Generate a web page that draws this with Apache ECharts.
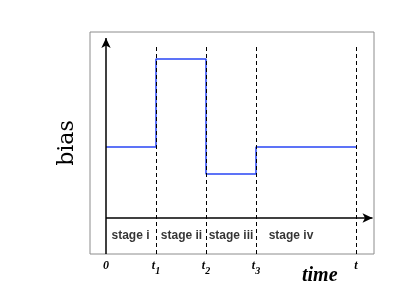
<!DOCTYPE html>
<html>
<head>
<meta charset="utf-8">
<script src="https://cdn.jsdelivr.net/npm/echarts@6/dist/echarts.min.js"></script>
<style>html,body{margin:0;padding:0;background:#fff}#c{width:415px;height:286px}</style>
</head>
<body>
<div id="c"></div>
<script>
// ---- data ----
var stepX = [0, 1, 2, 3, 5];
var biasLevels = [71, 159, 44, 71, 71];
var tickValues = [0, 1, 2, 3, 5];
var tickLabels = ['0', 't1', 't2', 't3', 't'];
var dashedMarks = [1, 2, 3, 5];
var stageNames = ['stage i', 'stage ii', 'stage iii', 'stage iv'];
var stageCenters = [0.49, 1.51, 2.5, 3.7];
var stageLevel = -18;
var axisEndX = 5.33;
var axisTopY = 180;
var dashTopY = 173;
var xMin = -0.32, xMax = 5.36, yMin = -36, yMax = 186;

var chart = echarts.init(document.getElementById('c'));

var stepData = stepX.map(function (x, i) { return [x, biasLevels[i]]; });
var stageData = stageNames.map(function (n, i) { return { name: n, value: [stageCenters[i], stageLevel] }; });
var dashData = dashedMarks.map(function (x) { return [{ coord: [x, yMin] }, { coord: [x, dashTopY] }]; });

var labelMap = {};
tickValues.forEach(function (v, i) { labelMap[v] = tickLabels[i]; });

chart.setOption({
  animation: false,
  grid: { left: 90, right: 41, top: 32, bottom: 32, show: true, borderColor: '#8c8c8c', borderWidth: 1, backgroundColor: 'transparent' },
  xAxis: {
    type: 'value', min: xMin, max: xMax,
    axisLine: { show: false }, axisTick: { show: false }, splitLine: { show: false },
    axisLabel: {
      customValues: tickValues,
      margin: 6,
      formatter: function (v) {
        var s = labelMap[v];
        if (s === undefined) return '';
        if (s.length > 1) return '{t|' + s[0] + '}{s|' + s.slice(1) + '}';
        return '{t|' + s + '}';
      },
      rich: {
        t: { fontFamily: 'Liberation Serif', fontStyle: 'italic', fontWeight: 'bold', fontSize: 12, color: '#000', lineHeight: 12, verticalAlign: 'top' },
        s: { fontFamily: 'Liberation Serif', fontStyle: 'italic', fontWeight: 'bold', fontSize: 10, color: '#000', lineHeight: 10, padding: [6, 0, 0, 0], verticalAlign: 'top' }
      }
    }
  },
  yAxis: {
    type: 'value', min: yMin, max: yMax,
    axisLine: { show: false }, axisTick: { show: false }, splitLine: { show: false }, axisLabel: { show: false },
    name: 'bias', nameLocation: 'middle', nameGap: 12, nameRotate: 90,
    nameTextStyle: { fontFamily: 'DejaVu Serif', fontSize: 22, color: '#000' }
  },
  title: {
    text: 'time', left: 302, top: 266, padding: 0,
    textStyle: { fontFamily: 'Liberation Serif', fontStyle: 'italic', fontWeight: 'bold', fontSize: 20, color: '#000' }
  },
  series: [
    {
      type: 'line', step: 'end', data: stepData, symbol: 'none', z: 2,
      lineStyle: { color: '#2845f5', width: 1.5 }
    },
    {
      type: 'line', data: [], z: 3,
      markLine: {
        silent: true, symbol: ['none', 'none'], label: { show: false },
        lineStyle: { color: '#000', type: [4, 3], width: 1 },
        data: dashData
      }
    },
    {
      type: 'line', data: [], z: 4,
      markLine: {
        silent: true, symbol: ['none', 'arrow'], symbolSize: [7, 10], label: { show: false },
        lineStyle: { color: '#000', type: 'solid', width: 1.5 },
        data: [
          [{ coord: [0, 0] }, { coord: [axisEndX, 0] }],
          [{ coord: [0, yMin] }, { coord: [0, axisTopY] }]
        ]
      }
    },
    {
      type: 'scatter', data: stageData, symbolSize: 0, z: 5,
      itemStyle: { color: '#000' },
      label: {
        show: true, position: 'inside', formatter: '{b}',
        fontFamily: 'Liberation Sans', fontWeight: 'bold', fontSize: 12, color: '#000',
        textBorderWidth: 0
      }
    }
  ]
});
</script>
</body>
</html>
